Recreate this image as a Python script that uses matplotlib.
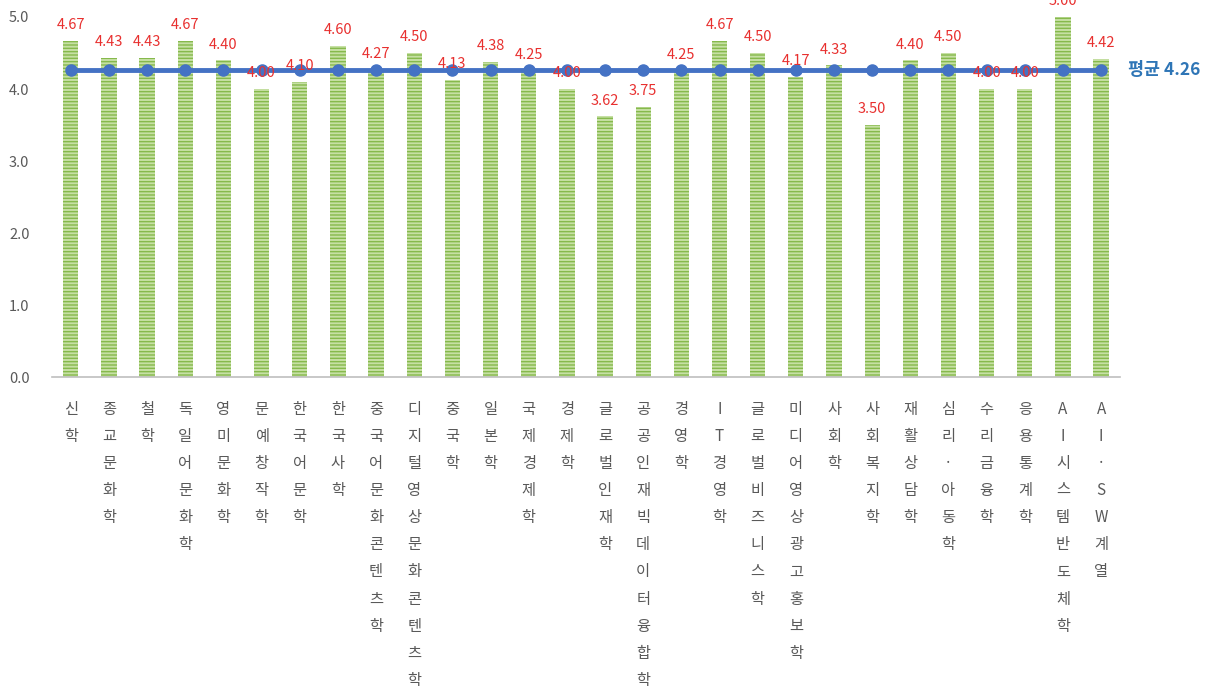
import matplotlib.pyplot as plt
import numpy as np

plt.rcParams['font.family'] = ['Noto Sans CJK KR', 'DejaVu Sans']

majors = ['신학', '종교문화학', '철학', '독일어문화학', '영미문화학', '문예창작학',
          '한국어문학', '한국사학', '중국어문화콘텐츠학', '디지털영상문화콘텐츠학',
          '중국학', '일본학', '국제경제학', '경제학', '글로벌인재학',
          '공공인재빅데이터융합학', '경영학', 'IT경영학', '글로벌비즈니스학',
          '미디어영상광고홍보학', '사회학', '사회복지학', '재활상담학', '심리·아동학',
          '수리금융학', '응용통계학', 'AI시스템반도체학', 'AI·SW계열']
scores = [4.67, 4.43, 4.43, 4.67, 4.40, 4.00, 4.10, 4.60, 4.27, 4.50,
          4.13, 4.38, 4.25, 4.00, 3.62, 3.75, 4.25, 4.67, 4.50, 4.17,
          4.33, 3.50, 4.40, 4.50, 4.00, 4.00, 5.00, 4.42]
avg = 4.26

fig = plt.figure(figsize=(12.31, 6.91), dpi=100)
ax = fig.add_axes([0.042, 0.4544, 0.868, 0.521])

x = np.arange(len(majors))
ax.bar(x, scores, width=0.40, color='#c6e0a4', edgecolor='#86b94c',
       linewidth=0, hatch='-----', zorder=2)

ax.plot(x, [avg] * len(x), color='#4472c4', lw=3.5, marker='o', ms=8,
        markerfacecolor='#4472c4', markeredgecolor='#4472c4', zorder=3)
ax.text(len(x) - 0.3, avg, f'평균 {avg:.2f}', color='#2e75b6', fontsize=12.5,
        fontweight='bold', va='center', ha='left', clip_on=False)

for xi, v in zip(x, scores):
    ax.text(xi, v + 0.12, f'{v:.2f}', color='#e8302f', fontsize=10.5,
            ha='center', va='bottom', zorder=4, clip_on=False)

ax.set_xlim(-0.5, len(x) - 0.5)
ax.set_ylim(0, 5)
ax.set_yticks(np.arange(0, 5.1, 1.0))
ax.set_yticklabels([f'{t:.1f}' for t in np.arange(0, 5.1, 1.0)])
ax.set_xticks(x)
ax.set_xticklabels(['\n'.join(m) for m in majors], linespacing=1.78,
                   va='top', ha='center', multialignment='center')
ax.tick_params(axis='both', length=0, colors='#595959', labelsize=10.5)
ax.tick_params(axis='x', pad=17, labelsize=11)
ax.tick_params(axis='y', pad=16)

for s in ['top', 'right', 'left']:
    ax.spines[s].set_visible(False)
ax.spines['bottom'].set_color('#bfbfbf')
ax.spines['bottom'].set_linewidth(1.2)

fig.savefig('out.png', dpi=100)
